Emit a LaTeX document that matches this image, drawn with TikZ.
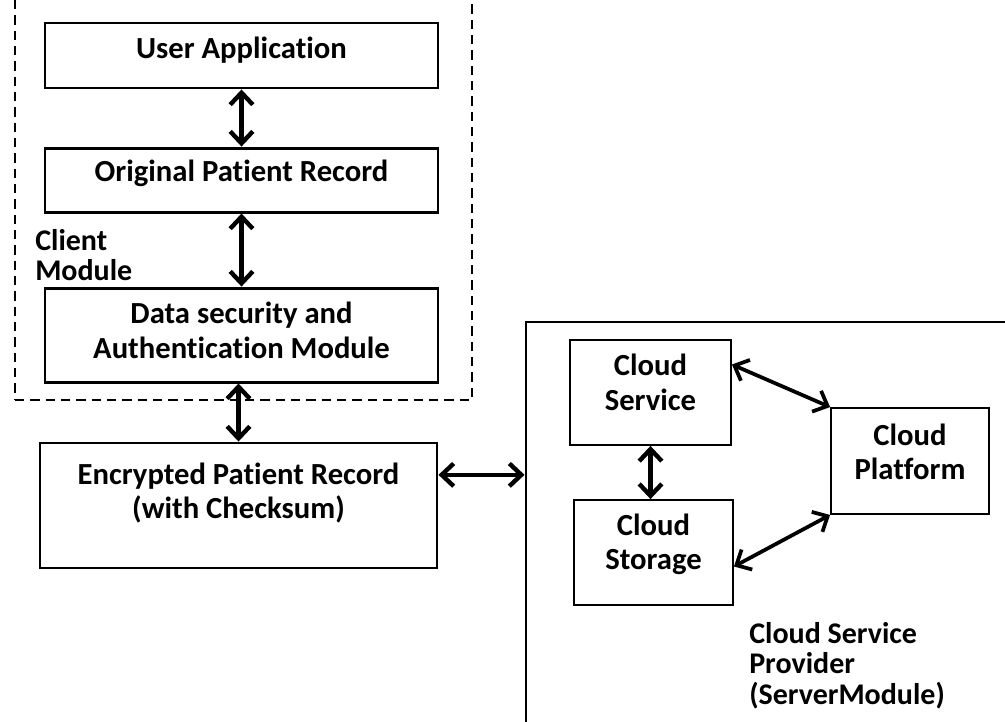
\documentclass[tikz,border=0pt]{standalone}
\usepackage{fontspec}
\setmainfont{Carlito}[Ligatures=NoCommon]
\usetikzlibrary{positioning, arrows.meta}

\tikzset{
  blk/.style={draw, line width=2.2pt, align=center, inner sep=0pt},
  cld/.style={draw, line width=1.4pt, align=center, inner sep=0pt},
  lbl/.style={align=left, inner sep=0pt, font=\fontsize{22.5}{23}\selectfont\bfseries},
  biarrow/.style={{Straight Barb[length=9pt,width=17pt]}-{Straight Barb[length=9pt,width=17pt]}, line width=3.3pt},
}

\begin{document}
\begin{tikzpicture}[x=0.75pt, y=-0.75pt, on grid, font=\fontsize{23}{26}\selectfont\bfseries]
  \useasboundingbox (0,0) rectangle (1005,721);
  % client module
  \node[draw, dash pattern=on 7pt off 4.5pt, line width=1.3pt, minimum width=342.75pt, minimum height=307.5pt] (client) at (243.5,195) {};
  \node[blk, minimum width=294.75pt, minimum height=48.75pt, text depth=12pt] (ua) at (241.5,55.5) {User Application};
  \node[blk, minimum width=294.75pt, minimum height=48pt, text depth=13.4pt] (opr) [below=93.4pt of ua] {Original Patient Record};
  \node[blk, minimum width=294.75pt, minimum height=70.5pt, text depth=7.5pt] (dsa) [below=116.25pt of opr] {Data security and\\Authentication Module};
  \node[lbl, anchor=west] (cm) at (35,255) {Client\\Module};
  \node[blk, minimum width=297.75pt, minimum height=93.75pt, text depth=22pt] (epr) at (238.5,505.5) {Encrypted Patient Record\\(with Checksum)};
  % server module
  \node[draw, line width=2.2pt, minimum width=366.75pt, minimum height=309.75pt] (csp) at (770.5,528.5) {};
  \node[cld, minimum width=120.75pt, minimum height=78.75pt, text depth=15pt] (cs) at (650.5,392.5) {Cloud\\Service};
  \node[cld, minimum width=119.25pt, minimum height=78.75pt, text depth=16pt] (cst) at (653.5,552.5) {Cloud\\Storage};
  \node[cld, minimum width=118.5pt, minimum height=79.5pt, text depth=14pt] (cp) at (910,461) {Cloud\\Platform};
  \node[lbl, anchor=north west] (cspl) at (749,622) {Cloud Service\\Provider\\(ServerModule)};

  \draw[biarrow] (ua) -- (opr);
  \draw[biarrow] (opr) -- (dsa);
  \draw[biarrow] (dsa.south -| epr.north) -- (epr.north);
  \draw[biarrow] ([yshift=23pt]epr.east) -- ([yshift=23pt]epr.east -| csp.west);
  \draw[biarrow] (cs.south) -- (cs.south |- cst.north);
  \draw[biarrow, line width=2.8pt] ([yshift=21pt]cs.east) -- (cp.north west);
  \draw[biarrow, line width=2.8pt] ([yshift=-10.5pt]cst.east) -- (cp.south west);
\end{tikzpicture}
\end{document}
